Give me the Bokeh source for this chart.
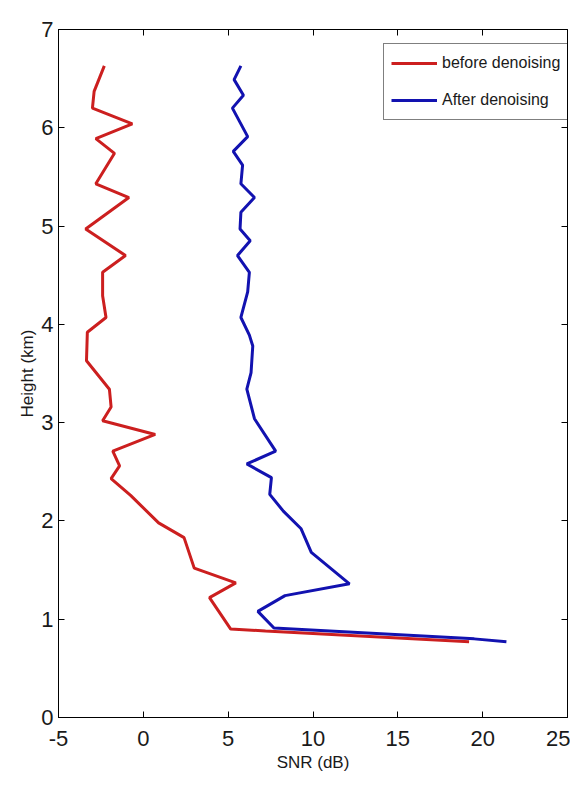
from bokeh.plotting import figure
from bokeh.models import LinearAxis, Range1d, Legend, LegendItem, FixedTicker
from bokeh.embed import file_html
from bokeh.resources import INLINE

# ---- data ----
before_snr = [-2.3, -2.9, -3.0, -0.65, -2.8, -1.7, -2.8, -0.85, -3.4, -1.05,
              -2.4, -2.4, -2.2, -3.3, -3.35, -2.0, -1.9, -2.4, 0.7, -1.8,
              -1.4, -1.9, -0.75, 0.9, 2.4, 3.0, 5.45, 3.9, 5.15, 7.2, 19.2]
before_h = [6.63, 6.37, 6.20, 6.04, 5.89, 5.74, 5.43, 5.29, 4.97, 4.70,
            4.53, 4.29, 4.07, 3.92, 3.63, 3.34, 3.16, 3.02, 2.88, 2.71,
            2.56, 2.43, 2.26, 1.98, 1.83, 1.52, 1.37, 1.22, 0.90, 0.88, 0.77]

after_snr = [5.75, 5.35, 5.9, 5.25, 6.15, 5.3, 5.85, 5.75, 6.55, 5.75,
             5.7, 6.3, 5.55, 6.25, 6.15, 5.75, 6.25, 6.45, 6.35, 6.1,
             6.55, 7.8, 6.1, 7.55, 7.45, 8.25, 9.3, 9.9, 12.15, 8.35,
             6.75, 7.7, 19.5, 21.4]
after_h = [6.63, 6.49, 6.33, 6.20, 5.91, 5.76, 5.62, 5.43, 5.29, 5.14,
           4.97, 4.85, 4.70, 4.53, 4.33, 4.07, 3.89, 3.78, 3.51, 3.34,
           3.04, 2.71, 2.58, 2.44, 2.27, 2.10, 1.92, 1.68, 1.36, 1.24,
           1.08, 0.91, 0.80, 0.77]

x_ticks = [-5, 0, 5, 10, 15, 20, 25]
y_ticks = [0, 1, 2, 3, 4, 5, 6, 7]
series_labels = ["before denoising", "After denoising"]
x_title = "SNR (dB)"
y_title = "Height (km)"

FONT = "'Liberation Sans', Arial, sans-serif"

p = figure(width=570, height=776, x_range=Range1d(-5, 25), y_range=Range1d(0, 7),
           output_backend="svg", toolbar_location=None,
           min_border_left=58, min_border_right=3, min_border_top=29, min_border_bottom=59)

p.xgrid.visible = False
p.ygrid.visible = False
p.outline_line_color = "black"
p.outline_line_width = 1
p.background_fill_color = "white"
p.border_fill_color = "white"

p.xaxis.ticker = FixedTicker(ticks=x_ticks)
p.yaxis.ticker = FixedTicker(ticks=y_ticks)
p.xaxis.major_label_overrides = {t: str(t) for t in x_ticks}

for ax in list(p.xaxis) + list(p.yaxis):
    ax.major_tick_in = 6
    ax.major_tick_out = 0
    ax.minor_tick_line_color = None
    ax.axis_line_color = "black"
    ax.major_tick_line_color = "black"
    ax.major_label_text_font = FONT
    ax.major_label_text_font_size = "22px"
    ax.major_label_text_color = "#1a1a1a"
    ax.axis_label_text_font = FONT
    ax.axis_label_text_font_style = "normal"
    ax.axis_label_text_color = "#1a1a1a"

p.xaxis.axis_label = x_title
p.xaxis.axis_label_text_font_size = "17px"
p.xaxis.major_label_standoff = 13
p.xaxis.axis_label_standoff = 4

p.yaxis.axis_label = y_title
p.yaxis.axis_label_text_font_size = "17px"
p.yaxis.major_label_standoff = 5
p.yaxis.axis_label_standoff = 1

# mirrored ticks on top and right
top = LinearAxis(ticker=FixedTicker(ticks=x_ticks),
                 major_label_overrides={t: "" for t in x_ticks})
right = LinearAxis(ticker=FixedTicker(ticks=y_ticks),
                   major_label_overrides={t: "" for t in y_ticks})
for ax in (top, right):
    ax.major_tick_in = 6
    ax.major_tick_out = 0
    ax.minor_tick_line_color = None
    ax.axis_line_color = None
    ax.major_label_standoff = 0
    ax.major_label_text_font_size = "1px"
p.add_layout(top, "above")
p.add_layout(right, "right")

r_before = p.line(before_snr, before_h, line_color="#cc1f1f", line_width=3)
r_after = p.line(after_snr, after_h, line_color="#1212b0", line_width=3)

legend = Legend(items=[LegendItem(label=series_labels[0], renderers=[r_before]),
                       LegendItem(label=series_labels[1], renderers=[r_after])],
                location=(325, 597), margin=0, padding=7, spacing=13,
                glyph_width=46, glyph_height=24, label_height=24, label_standoff=5,
                label_text_font=FONT, label_text_font_size="16px",
                label_text_color="#1a1a1a",
                border_line_color="black", border_line_width=1,
                background_fill_color="white", background_fill_alpha=1)
p.add_layout(legend, "center")

open("out.html", "w").write(file_html(p, INLINE))
